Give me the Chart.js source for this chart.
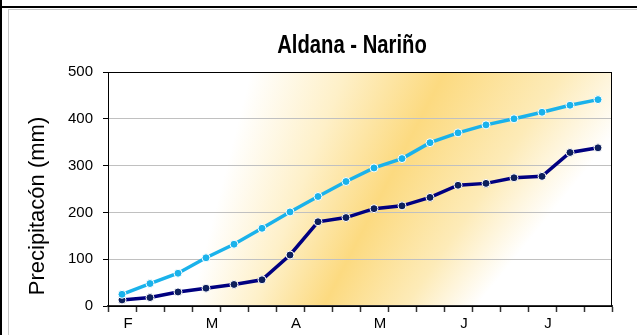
<!DOCTYPE html>
<html>
<head>
<meta charset="utf-8">
<script src="https://cdn.jsdelivr.net/npm/chart.js@4/dist/chart.umd.min.js"></script>
<style>
  html, body { margin: 0; padding: 0; background: #fff; }
  #wrap { width: 637px; height: 335px; position: relative; }
</style>
</head>
<body>
<div id="wrap"><canvas id="rainChart" width="637" height="335"></canvas></div>
<script>
// dekads Feb..Jul, month letter on the first dekad of each month
const dekadLabels = ["F", "", "", "M", "", "", "A", "", "", "M", "", "", "J", "", "", "J", "", ""];
const seriesHigh = [25, 48, 70, 103, 132, 166, 201, 234, 266, 295, 315, 349, 370, 387, 400, 414, 429, 441];
const seriesLow = [13, 18, 30, 38, 46, 56, 109, 180, 189, 208, 214, 232, 258, 262, 274, 277, 328, 338];
const yTicks = [0, 100, 200, 300, 400, 500];

const chartTitle = "Aldana - Nariño";
const yTitle = "Precipitacón (mm)";
const FONT = "'Liberation Sans', Arial, sans-serif";

/* ================= PLUGINS ================= */

function deg(d) { return d * Math.PI / 180; }

const backdrop = {
    id: "backdrop",
    beforeDraw(chart) {
        const { ctx, chartArea: a, width, height } = chart;
        ctx.save();
        // outer frame
        ctx.fillStyle = "#000";
        ctx.fillRect(0, 6, width, 2);
        ctx.fillRect(0, 0, 2, height);
        ctx.fillStyle = "#c8c8c8";
        ctx.fillRect(8, 9, 1, height - 9);
        ctx.fillRect(8, 9, width - 8, 1);

        // fanned yellow band (white -> gold -> white)
        let g;
        if (ctx.createConicGradient) {
            g = ctx.createConicGradient(deg(-82), 56, 825);
            g.addColorStop(0, "#ffffff");
            g.addColorStop(6.5 / 360, "#ffffff");
            g.addColorStop(13 / 360, "#fef0c8");
            g.addColorStop(19.3 / 360, "#fcda80");
            g.addColorStop(26 / 360, "#fdebb8");
            g.addColorStop(31 / 360, "#ffffff");
            g.addColorStop(1, "#ffffff");
        } else {
            g = ctx.createLinearGradient(200, 100, 560, 270);
            g.addColorStop(0, "#ffffff");
            g.addColorStop(0.5, "#fcda80");
            g.addColorStop(1, "#ffffff");
        }
        ctx.fillStyle = g;
        ctx.fillRect(a.left, a.top, a.right - a.left, a.bottom - a.top);
        ctx.restore();
    },
    afterDraw(chart) {
        const { ctx, chartArea: a } = chart;
        ctx.save();
        ctx.strokeStyle = "#000";
        ctx.lineWidth = 1;
        ctx.strokeRect(a.left + 0.5, a.top + 0.5, a.right - a.left - 1, a.bottom - a.top);

        ctx.fillStyle = "#000";
        ctx.textAlign = "center";
        ctx.textBaseline = "alphabetic";

        // narrow bold title
        ctx.save();
        ctx.translate(352, 53);
        ctx.scale(0.81, 1);
        ctx.font = "bold 25px " + FONT;
        ctx.fillText(chartTitle, 0, 0);
        ctx.restore();

        ctx.translate(44, 206);
        ctx.rotate(-Math.PI / 2);
        ctx.font = "22px " + FONT;
        ctx.fillText(yTitle, 0, 0);
        ctx.restore();
    }
};

/* ================= CHART ================= */

new Chart(document.getElementById("rainChart"), {
    type: "line",
    data: {
        labels: dekadLabels,
        datasets: [
            {
                label: "Alta",
                data: seriesHigh,
                borderColor: "#1ab2eb",
                backgroundColor: "#1ab2eb",
                pointBackgroundColor: "#1ab2eb",
                pointBorderColor: "#ffffff",
                pointBorderWidth: 1,
                pointRadius: 4,
                borderWidth: 3.5,
                tension: 0
            },
            {
                label: "Baja",
                data: seriesLow,
                borderColor: "#000080",
                backgroundColor: "#000080",
                pointBackgroundColor: "#0d1f5c",
                pointBorderColor: "#ffffff",
                pointBorderWidth: 1,
                pointRadius: 4,
                borderWidth: 3.5,
                tension: 0
            }
        ]
    },
    options: {
        responsive: false,
        animation: false,
        layout: { padding: { left: 0, right: 25, top: 72, bottom: 0 } },
        plugins: {
            legend: { display: false },
            title: { display: false },
            tooltip: { enabled: false }
        },
        scales: {
            x: {
                offset: true,
                grid: {
                    offset: true,
                    drawOnChartArea: false,
                    drawTicks: true,
                    tickLength: 6,
                    tickColor: "#333",
                    tickWidth: 1.5
                },
                border: { color: "#333", width: 2 },
                ticks: {
                    autoSkip: false,
                    maxRotation: 0,
                    labelOffset: 6,
                    padding: 3,
                    color: "#000",
                    font: { family: FONT, size: 15 }
                },
                afterFit(scale) { scale.height = 29; }
            },
            y: {
                min: 0,
                max: 500,
                afterBuildTicks(scale) { scale.ticks = yTicks.map(v => ({ value: v })); },
                grid: {
                    color: "#c0c0c0",
                    tickColor: "#000",
                    tickLength: 5,
                    lineWidth: 1
                },
                border: { color: "#000", width: 1 },
                ticks: {
                    padding: 10,
                    color: "#000",
                    font: { family: FONT, size: 15 }
                },
                afterFit(scale) { scale.width = 108; }
            }
        }
    },
    plugins: [backdrop]
});
</script>
</body>
</html>
